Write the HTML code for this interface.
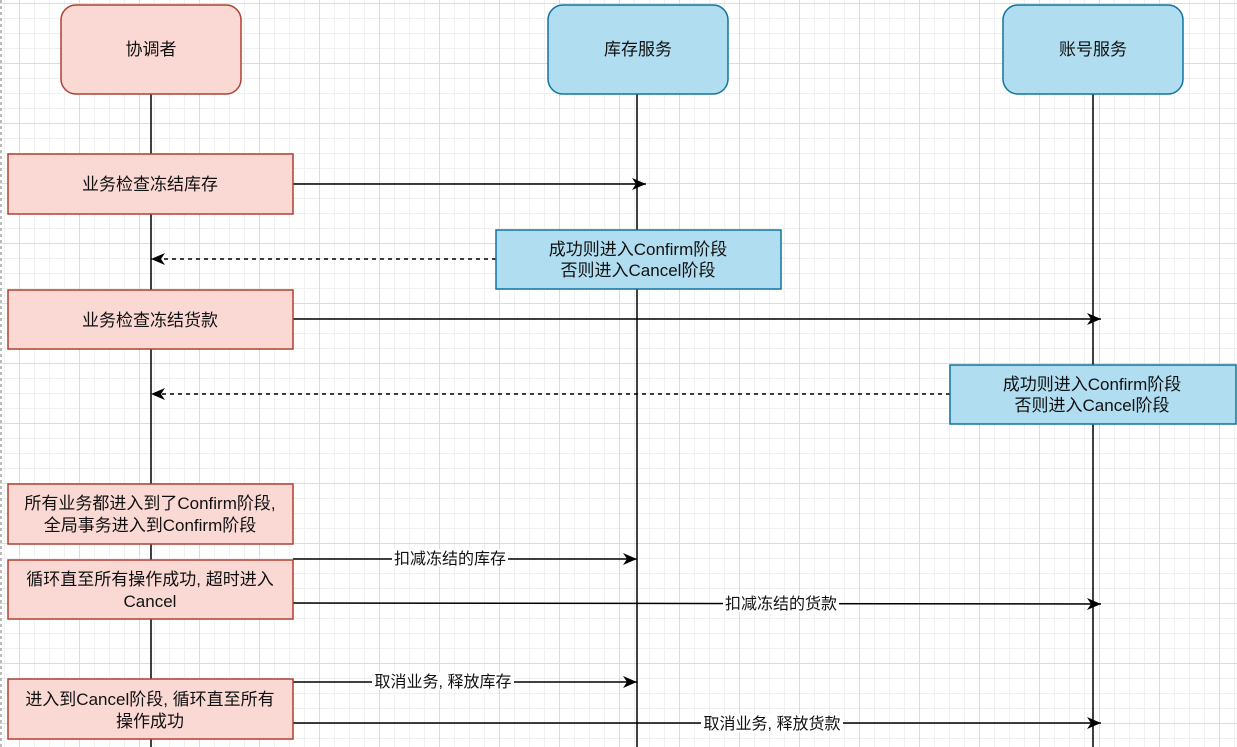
<!DOCTYPE html>
<html><head><meta charset="utf-8"><style>
html,body{margin:0;padding:0;background:#fff;}
svg{display:block;}
text{font-family:"Liberation Sans","Noto Sans CJK SC",sans-serif;font-size:17px;fill:#111;}
</style></head><body>
<svg width="1237" height="747" viewBox="0 0 1237 747" xmlns="http://www.w3.org/2000/svg">
<defs>
<pattern id="g" x="4" y="3" width="15" height="15" patternUnits="userSpaceOnUse">
<path d="M0 0.5H15M0.5 0V15" stroke="#f0f0f0" stroke-width="1" fill="none"/>
</pattern>
<pattern id="G" x="19" y="3" width="60" height="60" patternUnits="userSpaceOnUse">
<path d="M0 0.5H60M0.5 0V60" stroke="#dcdcdc" stroke-width="1" fill="none"/>
</pattern>
<marker id="a" markerWidth="16" markerHeight="16" refX="14" refY="8" orient="auto" markerUnits="userSpaceOnUse">
<path d="M0,2 L14,8 L0,14 L4,8 Z" fill="#000"/>
</marker>
</defs>
<rect width="1237" height="747" fill="url(#g)"/>
<rect width="1237" height="747" fill="url(#G)"/>
<line x1="1" y1="0" x2="1" y2="747" stroke="#bbb" stroke-dasharray="3,3" stroke-width="2"/>

<line x1="151" y1="94" x2="151" y2="747" stroke="#000" stroke-width="1.5"/>
<line x1="637" y1="94" x2="637" y2="747" stroke="#000" stroke-width="1.5"/>
<line x1="1093" y1="94" x2="1093" y2="747" stroke="#000" stroke-width="1.5"/>

<rect x="61" y="5" width="180" height="89" rx="15" fill="#fad9d5" stroke="#ae4132" stroke-width="1.5"/>
<text x="151" y="55" text-anchor="middle">协调者</text>
<rect x="548" y="5" width="180" height="89" rx="15" fill="#b1ddf0" stroke="#10739e" stroke-width="1.5"/>
<text x="638" y="55" text-anchor="middle">库存服务</text>
<rect x="1003" y="5" width="180" height="89" rx="15" fill="#b1ddf0" stroke="#10739e" stroke-width="1.5"/>
<text x="1093" y="55" text-anchor="middle">账号服务</text>

<line x1="293" y1="184" x2="646" y2="184" stroke="#000" stroke-width="1.5" marker-end="url(#a)"/>
<line x1="496" y1="259" x2="151" y2="259" stroke="#000" stroke-width="1.5" stroke-dasharray="4,4" marker-end="url(#a)"/>
<line x1="293" y1="319" x2="1101" y2="319" stroke="#000" stroke-width="1.5" marker-end="url(#a)"/>
<line x1="950" y1="394" x2="151" y2="394" stroke="#000" stroke-width="1.5" stroke-dasharray="4,4" marker-end="url(#a)"/>
<line x1="293" y1="559" x2="637" y2="559" stroke="#000" stroke-width="1.5" marker-end="url(#a)"/>
<line x1="293" y1="603" x2="1101" y2="604" stroke="#000" stroke-width="1.5" marker-end="url(#a)"/>
<line x1="293" y1="682" x2="637" y2="682" stroke="#000" stroke-width="1.5" marker-end="url(#a)"/>
<line x1="293" y1="723" x2="1101" y2="723" stroke="#000" stroke-width="1.5" marker-end="url(#a)"/>

<rect x="392" y="549" width="116" height="18" fill="#fff"/>
<text x="450" y="564" text-anchor="middle" style="font-size:16px">扣减冻结的库存</text>
<rect x="723" y="594" width="116" height="18" fill="#fff"/>
<text x="781" y="609" text-anchor="middle" style="font-size:16px">扣减冻结的货款</text>
<rect x="372" y="672" width="142" height="18" fill="#fff"/>
<text x="443" y="687" text-anchor="middle" style="font-size:16px">取消业务, 释放库存</text>
<rect x="701" y="714" width="142" height="18" fill="#fff"/>
<text x="772" y="729" text-anchor="middle" style="font-size:16px">取消业务, 释放货款</text>

<rect x="8" y="154" width="285" height="60" fill="#fad9d5" stroke="#ae4132" stroke-width="1.5"/>
<text x="150" y="190" text-anchor="middle">业务检查冻结库存</text>
<rect x="8" y="290" width="285" height="59" fill="#fad9d5" stroke="#ae4132" stroke-width="1.5"/>
<text x="150" y="326" text-anchor="middle">业务检查冻结货款</text>
<rect x="8" y="484" width="285" height="60" fill="#fad9d5" stroke="#ae4132" stroke-width="1.5"/>
<text x="150" y="509" text-anchor="middle">所有业务都进入到了Confirm阶段,</text>
<text x="150" y="531" text-anchor="middle">全局事务进入到Confirm阶段</text>
<rect x="8" y="560" width="285" height="59" fill="#fad9d5" stroke="#ae4132" stroke-width="1.5"/>
<text x="150" y="585" text-anchor="middle">循环直至所有操作成功, 超时进入</text>
<text x="150" y="607" text-anchor="middle">Cancel</text>
<rect x="8" y="679" width="285" height="60" fill="#fad9d5" stroke="#ae4132" stroke-width="1.5"/>
<text x="150" y="705" text-anchor="middle">进入到Cancel阶段, 循环直至所有</text>
<text x="150" y="727" text-anchor="middle">操作成功</text>

<rect x="496" y="230" width="285" height="59" fill="#b1ddf0" stroke="#10739e" stroke-width="1.5"/>
<text x="638" y="255" text-anchor="middle">成功则进入Confirm阶段</text>
<text x="638" y="276" text-anchor="middle">否则进入Cancel阶段</text>
<rect x="950" y="365" width="286" height="59" fill="#b1ddf0" stroke="#10739e" stroke-width="1.5"/>
<text x="1092" y="390" text-anchor="middle">成功则进入Confirm阶段</text>
<text x="1092" y="411" text-anchor="middle">否则进入Cancel阶段</text>
</svg>
</body></html>
